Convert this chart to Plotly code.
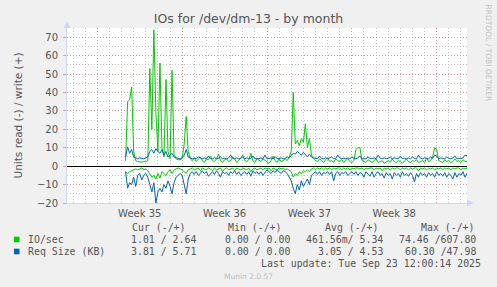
import plotly.graph_objects as go
import pandas as pd

# ---------------- data ----------------
data_start = "2025-08-26 08:00"
step = "4h"

io_write = [
    3, 35, 36, 43, 8, 3, 2.5, 2.3, 2.2, 2.5,
    2.4, 3, 53, 20, 74, 29, 8, 56, 10, 5,
    47, 8, 4, 52, 6, 4, 3.5, 3.5, 4, 12,
    27, 8, 4, 3, 4.5, 2.5, 3.5, 5, 3, 2,
    4, 3.5, 5.5, 3, 2.5, 4, 6.5, 3, 2, 3.5,
    4, 2.5, 3, 5, 4, 2, 3, 4.5, 6, 3,
    2.5, 3.5, 7, 3, 2, 4, 3, 2.5, 4, 3,
    2, 1.5, 3, 5.5, 3, 2, 4, 2.5, 3, 4,
    3, 5, 8, 40, 12, 14, 11, 15, 13, 23,
    10, 15, 6, 4, 3, 2.5, 4, 3, 2, 3.5,
    4.5, 2.5, 3, 2, 4, 3, 2.5, 3.5, 2, 3,
    4, 2.5, 2, 3, 9, 10, 10, 3, 2.5, 2,
    3.5, 2.5, 2, 3, 4, 2, 2.5, 3, 1.5, 2.5,
    3, 2, 4, 2.5, 2, 3, 2.5, 1.5, 3, 4,
    2.5, 2, 3, 2.5, 3.5, 2, 2.5, 3, 2, 4.5,
    2.5, 3, 5, 10, 9, 3, 2.5, 2, 3.5, 2.5,
    3, 2, 2.5, 4, 2.5, 3, 2, 3.5, 2.5, 2.64]

io_read = [
    3, 4, 3, 2.5, 2, 1.5, 2, 1.5, 1, 2,
    1.5, 2.5, 4, 6, 5, 7, 4, 6.5, 3, 4,
    5, 3, 2, 4, 2, 1.5, 1, 1.5, 2, 3,
    4, 2, 1.5, 1, 2, 1.5, 1, 2.5, 1, 1.5,
    2, 1, 1.5, 2.5, 1, 2, 1.5, 1, 3, 1.5,
    1, 2, 1.5, 1, 2.5, 1, 1.5, 2, 1, 1.5,
    2, 1, 3, 1.5, 1, 2, 1.5, 1, 2, 1,
    1.5, 1, 2.5, 1, 1.5, 2, 1, 1.5, 1, 2,
    1.5, 2.5, 3, 6, 4, 5, 3, 4, 2.5, 3,
    2, 3, 1.5, 1, 2, 1, 1.5, 1, 2, 1,
    1.5, 1, 2, 1, 1.5, 1, 1, 2, 1, 1.5,
    1, 2, 1, 1.5, 1, 1, 1.5, 1, 2, 1,
    1.5, 1, 1, 2, 1, 1.5, 1, 2.5, 1, 1.5,
    1, 2, 1, 1.5, 1, 1, 2, 1, 1.5, 1,
    2, 1, 1.5, 1, 1, 2.5, 1, 1.5, 1, 2,
    1, 1.5, 1, 2, 1, 1.5, 1, 2, 1, 1.5,
    1, 2, 1, 1.5, 1, 1, 2, 1, 1.5, 1.01]

req_write = [
    5, 10.5, 7, 9, 5, 4.5, 4, 4.5, 4.2, 4,
    4.5, 5, 8, 9, 7, 9.5, 8, 7, 9, 6,
    8, 5, 6, 7, 5, 4.5, 4.2, 4, 4.5, 6,
    9, 5, 4.5, 4, 4.2, 4, 5, 4.3, 4, 4.5,
    4, 5.5, 4.2, 4, 4.5, 4, 4.2, 5, 4, 4.3,
    4, 4.5, 6, 4.2, 4, 4.5, 4, 4.2, 5, 4,
    4.5, 4, 4.2, 5.5, 4, 4.3, 4, 4.5, 4, 6,
    4, 4.2, 4.5, 4, 5, 4.2, 4, 4.5, 4, 4.3,
    5, 4.5, 6, 7, 6.5, 8, 7, 6, 7.5, 6,
    5, 6.5, 5, 4.5, 4.2, 4, 5.5, 4.2, 4, 4.5,
    4, 4.3, 5, 4, 4.2, 6, 4.5, 4, 4.3, 4,
    4.5, 4, 5, 4.2, 4, 4.5, 5.5, 4, 4.2, 4,
    5, 4.2, 4, 4.5, 4, 6, 4.3, 4, 4.5, 4,
    4.2, 5, 4, 4.5, 4.2, 4, 5.5, 4, 4.3, 4,
    4.5, 4, 5, 4.2, 4, 6, 4.3, 4, 4.5, 4.2,
    4, 5, 4.3, 6, 5.5, 4, 4.5, 4.2, 4, 5,
    4.2, 4, 4.5, 5.5, 4, 4.3, 4, 4.5, 6, 5.71]

req_read = [
    3, 12, 9, 10, 6, 11, 5, 4, 7.5, 5,
    4, 6, 10, 14, 9, 20, 14, 12, 14, 10,
    12, 8, 11, 15, 9, 6, 5, 4, 5, 10,
    15, 7, 4, 3, 4.5, 3, 5, 4, 2.5, 4,
    3, 5.5, 4, 3, 4.5, 2.5, 4, 6, 3, 4,
    3.5, 5, 3, 4, 2.5, 4.5, 3, 5, 4, 3,
    4.5, 3, 5.5, 2.5, 4, 3, 4.5, 3, 5, 3.5,
    2, 3, 4, 2.5, 3.5, 2, 3, 4, 2.5, 3,
    4, 6, 8, 12, 15, 10, 13, 8, 11, 9,
    7, 10, 5, 4, 3, 4.5, 3, 5, 3.5, 4,
    3, 4.5, 3, 8, 4, 3, 5, 3.5, 4, 3,
    5, 4, 3, 4.5, 3, 5, 3.5, 4, 6, 3,
    4, 5.5, 3, 6, 4, 3, 5, 4, 6.5, 3.5,
    5, 4, 7, 3.5, 5, 4, 6, 3, 5, 4,
    5.5, 3.5, 5, 8.5, 4, 6, 3.5, 5, 4, 6,
    3.5, 5, 4, 6, 3, 5, 4, 5.5, 3.5, 6,
    4, 5, 7, 3.5, 6, 4, 5, 3, 6, 3.81]

x_range = ["2025-08-21 12:00", "2025-09-23 12:00"]
week_labels = ["Week 35", "Week 36", "Week 37", "Week 38"]
week_centers = ["2025-08-27 12:00", "2025-09-03 12:00", "2025-09-10 12:00", "2025-09-17 12:00"]
week_starts = ["2025-08-24", "2025-08-31", "2025-09-07", "2025-09-14", "2025-09-21"]
y_ticks = [-20, -10, 0, 10, 20, 30, 40, 50, 60, 70]

series_names = ["IO/sec", "Req Size (KB)"]
series_colors = ["#00CC00", "#0066B3"]
col_headers = ["Cur (-/+)", "Min (-/+)", "Avg (-/+)", "Max (-/+)"]
cur_vals = ["1.01 / 2.64", "3.81 / 5.71"]
min_vals = ["0.00 / 0.00", "0.00 / 0.00"]
avg_vals = ["461.56m/ 5.34", "3.05 / 4.53"]
max_vals = ["74.46 /607.80", "60.30 /47.98"]
last_update = "Last update: Tue Sep 23 12:00:14 2025"

# ---------------- figure ----------------
W, H = 497, 287
L, R, T, B = 67, 467, 28, 203


def fx(px):
    return (px - L) / (R - L)


def fy(py):
    return (B - py) / (B - T)


times = pd.date_range(data_start, periods=len(io_write), freq=step)

fig = go.Figure()
fig.add_trace(go.Scatter(x=times, y=[-v for v in io_read], mode="lines",
                         line=dict(color=series_colors[0], width=1), showlegend=False))
fig.add_trace(go.Scatter(x=times, y=io_write, mode="lines",
                         line=dict(color=series_colors[0], width=1), showlegend=False))
fig.add_trace(go.Scatter(x=times, y=[-v for v in req_read], mode="lines",
                         line=dict(color=series_colors[1], width=1), showlegend=False))
fig.add_trace(go.Scatter(x=times, y=req_write, mode="lines",
                         line=dict(color=series_colors[1], width=1), showlegend=False))
# carrier for the weekly major grid axis
fig.add_trace(go.Scatter(x=[None], y=[None], xaxis="x2", showlegend=False, hoverinfo="skip"))

font_main = "DejaVu Sans"
font_mono = "DejaVu Sans Mono"
txt = "#555555"
minor_grid = "#c4c4c4"
major_grid = "rgb(228,150,150)"
axis_col = "#CFD6F8"

fig.update_layout(
    width=W, height=H,
    margin=dict(l=L, r=W - R, t=T, b=H - B, pad=0),
    paper_bgcolor="#F0F0F0", plot_bgcolor="#FFFFFF",
    font=dict(family=font_main, size=10, color=txt),
    showlegend=False,
    xaxis=dict(type="date", range=x_range, tickvals=week_centers, ticktext=week_labels,
               showgrid=False, zeroline=False, showline=True, linecolor=axis_col, linewidth=1,
               ticks="", ticklabelstandoff=1, tickfont=dict(size=10, color=txt),
               minor=dict(dtick=86400000, tick0="2025-08-21 00:00", showgrid=True,
                          gridcolor=minor_grid, griddash="1px,2px", gridwidth=1, ticks="")),
    xaxis2=dict(type="date", range=x_range, overlaying="x", anchor="y", side="bottom",
                tickvals=week_starts, showticklabels=False, showgrid=True,
                gridcolor=major_grid, griddash="1px,2px", gridwidth=1, ticks="",
                showline=False, zeroline=False),
    yaxis=dict(range=[-20, 75], tickvals=y_ticks, showgrid=True, gridcolor=major_grid,
               griddash="1px,2px", gridwidth=1, zeroline=True, zerolinecolor="#000000",
               zerolinewidth=1, showline=True, linecolor=axis_col, linewidth=1,
               ticks="outside", ticklen=3, tickcolor=major_grid, ticklabelstandoff=3,
               tickfont=dict(size=10, color=txt),
               title=dict(text="Units read (-) / write (+)", font=dict(size=10.5, color=txt),
                          standoff=12),
               minor=dict(dtick=5, showgrid=True, gridcolor=minor_grid,
                          griddash="1px,2px", gridwidth=1, ticks="")),
    title=dict(text="IOs for /dev/dm-13 - by month", x=0.5, xanchor="center",
               y=1 - 19 / H, yanchor="middle", font=dict(size=12.5, color=txt)),
)

shapes = []
# axis extensions and arrows
shapes.append(dict(type="line", xref="paper", yref="paper", x0=fx(R), x1=fx(470),
                   y0=0, y1=0, line=dict(color=axis_col, width=1)))
shapes.append(dict(type="path", xref="paper", yref="paper",
                   path=f"M {fx(467)} {fy(199.5)} L {fx(473.5)} {fy(203)} L {fx(467)} {fy(206.5)} Z",
                   fillcolor=axis_col, line=dict(width=0)))
shapes.append(dict(type="line", xref="paper", yref="paper", x0=0, x1=0,
                   y0=1, y1=fy(24), line=dict(color=axis_col, width=1)))
shapes.append(dict(type="path", xref="paper", yref="paper",
                   path=f"M {fx(63.5)} {fy(28)} L {fx(67)} {fy(21.5)} L {fx(70.5)} {fy(28)} Z",
                   fillcolor=axis_col, line=dict(width=0)))
# legend swatches
for k, c in enumerate(series_colors):
    yc = 239.5 + 12 * k
    shapes.append(dict(type="rect", xref="paper", yref="paper",
                       x0=fx(14), x1=fx(19.5), y0=fy(yc - 2.8), y1=fy(yc + 2.8),
                       fillcolor=c, line=dict(width=0)))
fig.update_layout(shapes=shapes)

ann = []


def add_text(text, px, py, anchor="left", size=9.9, color=txt, family=font_mono, angle=0):
    ann.append(dict(text=text, xref="paper", yref="paper", x=fx(px), y=fy(py),
                    xanchor=anchor, yanchor="middle", showarrow=False, borderpad=0,
                    textangle=angle, font=dict(family=family, size=size, color=color)))


header_right = [187, 283, 380, 476]
value_right = [197, 291, 384, 477]
for h, xr in zip(col_headers, header_right):
    add_text(h, xr, 227.5, "right")
for k, name in enumerate(series_names):
    yy = 239.5 + 12 * k
    add_text(name, 27, yy, "left")
    for vals, xr in zip([cur_vals, min_vals, avg_vals, max_vals], value_right):
        add_text(vals[k], xr, yy, "right")
add_text(last_update, 482, 263.5, "right")
add_text("Munin 2.0.57", 248, 276.5, "center", size=7.5, color="#c0c0c0", family=font_main)
add_text("RRDTOOL / TOBI OETIKER", 488.5, 53, "center", size=7.5, color="#c4c4c4",
         family=font_main, angle=90)
fig.update_layout(annotations=ann)

fig.write_html("out.html")
